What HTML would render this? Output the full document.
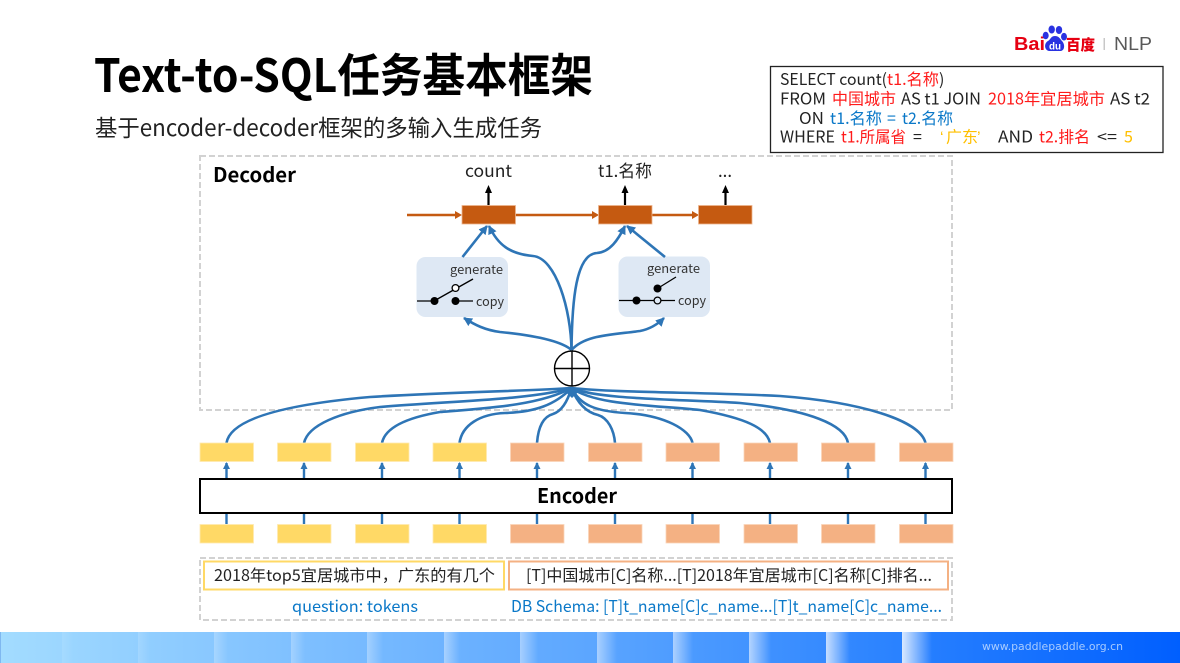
<!DOCTYPE html>
<html><head><meta charset="utf-8"><style>
html,body{margin:0;padding:0;background:#fff;width:1180px;height:663px;overflow:hidden}
svg{display:block}
text{font-family:"Noto Sans CJK SC","Liberation Sans",sans-serif;fill:#222}
.b{fill:none;stroke:#2E75B6;stroke-width:2.6}
.r{fill:#FF1A1A}.u{fill:#0A78C8}.y{fill:#FFC000}
.q{font-size:16px}
.d{fill:none;stroke:#D2D2D2;stroke-width:2;stroke-dasharray:6 3}
.ye{fill:#FFD966;stroke:#FFE9B0;stroke-width:.8}
.or{fill:#F4B183;stroke:#FBD5BA;stroke-width:.8}
.de{fill:#C55A11;stroke:#EDB48D;stroke-width:.8}
</style></head><body>
<svg width="1180" height="663" viewBox="0 0 1180 663" xmlns="http://www.w3.org/2000/svg">
<defs>
<marker id="ab" markerUnits="userSpaceOnUse" markerWidth="10" markerHeight="10" refX="8" refY="4.500" orient="auto"><path d="M0 0L9 4.500L0 9z" fill="#2E75B6"/></marker>
<linearGradient id="base" x1="0" x2="1180" gradientUnits="userSpaceOnUse"><stop offset="0" stop-color="#A3DCFF"/><stop offset=".25" stop-color="#7FC0FF"/><stop offset=".5" stop-color="#5CA6FF"/><stop offset=".76" stop-color="#2A82FF"/><stop offset="1" stop-color="#005FFF"/></linearGradient>
<linearGradient id="h"><stop offset="0" stop-color="#fff"/><stop offset="1" stop-color="#fff" stop-opacity="0"/></linearGradient>
</defs>

<!-- footer -->
<rect x="0" y="632" width="1180" height="31" fill="url(#base)"/>
<rect x="0" y="632" width="1" height="31" fill="#7FB8F0"/>
<rect x="62" y="632" width="12" height="31" fill="url(#h)" opacity=".1"/>
<rect x="138" y="632" width="12" height="31" fill="url(#h)" opacity=".15"/>
<rect x="214" y="632" width="14" height="31" fill="url(#h)" opacity=".25"/>
<rect x="291" y="632" width="14" height="31" fill="url(#h)" opacity=".28"/>
<rect x="367" y="632" width="16" height="31" fill="url(#h)" opacity=".33"/>
<rect x="444" y="632" width="16" height="31" fill="url(#h)" opacity=".4"/>
<rect x="520" y="632" width="18" height="31" fill="url(#h)" opacity=".43"/>
<rect x="597" y="632" width="20" height="31" fill="url(#h)" opacity=".48"/>
<rect x="673" y="632" width="20" height="31" fill="url(#h)" opacity=".53"/>
<rect x="749" y="632" width="22" height="31" fill="url(#h)" opacity=".6"/>
<rect x="826" y="632" width="24" height="31" fill="url(#h)" opacity=".72"/>
<rect x="902" y="632" width="30" height="31" fill="url(#h)" opacity=".82"/>
<text x="982" y="650" font-size="11" textLength="141" lengthAdjust="spacingAndGlyphs" style="font-family:'DejaVu Sans',sans-serif;fill:#A9CCFF">www.paddlepaddle.org.cn</text>

<!-- title -->
<text x="94" y="92" font-size="46" font-weight="700" textLength="499" lengthAdjust="spacingAndGlyphs" style="fill:#000">Text-to-SQL任务基本框架</text>
<text x="95" y="136" font-size="23" textLength="447" lengthAdjust="spacingAndGlyphs">基于encoder-decoder框架的多输入生成任务</text>

<!-- logo -->
<text x="1014" y="50" font-size="18" font-weight="900" textLength="31" lengthAdjust="spacingAndGlyphs" style="font-family:'Liberation Sans',sans-serif;fill:#E60012">Bai</text>
<g fill="#2932E1">
<ellipse cx="1045.700" cy="35.500" rx="3" ry="3.800"/><ellipse cx="1051.700" cy="29.500" rx="3.200" ry="4"/><ellipse cx="1059" cy="30" rx="3.200" ry="4"/><ellipse cx="1064" cy="36.700" rx="3" ry="3.800"/>
<path d="M1055 36c-4 0-4 3-7 5-4 2-4 9 1 10h12c4-1 4-7 1-10-2-2-3-5-7-5z"/>
</g>
<text x="1049" y="49.500" font-size="10" font-weight="700" textLength="12" lengthAdjust="spacingAndGlyphs" style="font-family:'Liberation Sans',sans-serif;fill:#fff">du</text>
<text x="1066" y="50" font-size="15" font-weight="900" textLength="29" lengthAdjust="spacingAndGlyphs" style="fill:#E60012">百度</text>
<rect x="1103.500" y="38" width="1.500" height="12" fill="#C8C8C8"/>
<text x="1114" y="50" font-size="18" textLength="38" lengthAdjust="spacingAndGlyphs" style="font-family:'Liberation Sans',sans-serif;fill:#595959">NLP</text>

<!-- SQL box -->
<rect x="770.500" y="66.500" width="392.500" height="86" fill="#fff" stroke="#222" stroke-width="1.300"/>
<text class="q" x="780" y="85" textLength="107" lengthAdjust="spacingAndGlyphs">SELECT count(</text><text class="q r" x="887" y="85" textLength="52" lengthAdjust="spacingAndGlyphs">t1.名称</text><text class="q" x="939" y="85">)</text>
<text class="q" x="780" y="104.500" textLength="46" lengthAdjust="spacingAndGlyphs">FROM</text><text class="q r" x="832" y="104.500" textLength="64" lengthAdjust="spacingAndGlyphs">中国城市</text><text class="q" x="901" y="104.500" textLength="80" lengthAdjust="spacingAndGlyphs">AS t1 JOIN</text><text class="q r" x="988" y="104.500" textLength="117" lengthAdjust="spacingAndGlyphs">2018年宜居城市</text><text class="q" x="1110" y="104.500" textLength="40" lengthAdjust="spacingAndGlyphs">AS t2</text>
<text class="q" x="799" y="124" textLength="25" lengthAdjust="spacingAndGlyphs">ON</text><text class="q u" x="830" y="124" textLength="52" lengthAdjust="spacingAndGlyphs">t1.名称</text><text class="q u" x="887" y="124">=</text><text class="q u" x="902" y="124" textLength="51" lengthAdjust="spacingAndGlyphs">t2.名称</text>
<text class="q" x="780" y="142.500" textLength="55" lengthAdjust="spacingAndGlyphs">WHERE</text><text class="q r" x="841" y="142.500" textLength="65" lengthAdjust="spacingAndGlyphs">t1.所属省</text><text class="q" x="913" y="142.500">=</text><text class="q y" x="940" y="142.500" style="font-family:'Liberation Sans',sans-serif">‘</text><text class="q y" x="946" y="142.500" textLength="32" lengthAdjust="spacingAndGlyphs">广东</text><text class="q y" x="977" y="142.500" style="font-family:'Liberation Sans',sans-serif">’</text><text class="q" x="998" y="142.500" textLength="35" lengthAdjust="spacingAndGlyphs">AND</text><text class="q r" x="1039" y="142.500" textLength="51" lengthAdjust="spacingAndGlyphs">t2.排名</text><text class="q" x="1097" y="142.500" textLength="20" lengthAdjust="spacingAndGlyphs">&lt;=</text><text class="q y" x="1124" y="142.500">5</text>

<!-- dashed frames -->
<rect class="d" x="200" y="156" width="752" height="254"/>
<rect class="d" x="200" y="558" width="752" height="62"/>
<text x="213" y="182" font-size="20" font-weight="700" textLength="83" lengthAdjust="spacingAndGlyphs" style="fill:#000">Decoder</text>

<!-- decoder output labels -->
<text x="465" y="177" font-size="17" textLength="47" lengthAdjust="spacingAndGlyphs">count</text>
<text x="598" y="177" font-size="17" textLength="54" lengthAdjust="spacingAndGlyphs">t1.名称</text>
<text x="718" y="177" font-size="17" textLength="14" lengthAdjust="spacingAndGlyphs">...</text>

<!-- orange arrows -->
<g stroke="#C55A11" stroke-width="2.500">
<line x1="407" y1="215" x2="457" y2="215"/><line x1="515" y1="215" x2="593" y2="215"/><line x1="652" y1="215" x2="693" y2="215"/>
</g>
<g fill="#C55A11"><path d="M455 211l7 4-7 4z"/><path d="M592 211l7 4-7 4z"/><path d="M692 211l7 4-7 4z"/></g>

<!-- decoder cells -->
<rect class="de" x="462" y="205.500" width="53.500" height="18.500"/>
<rect class="de" x="598.500" y="205.500" width="53.500" height="18.500"/>
<rect class="de" x="698.500" y="205.500" width="53.500" height="18.500"/>

<!-- black up arrows -->
<g stroke="#000" stroke-width="2.200"><line x1="488.500" y1="205" x2="488.500" y2="192"/><line x1="625" y1="205" x2="625" y2="192"/><line x1="725.500" y1="205" x2="725.500" y2="192"/></g>
<g fill="#000"><path d="M488.500 185l-3.500 8h7z"/><path d="M625 185l-3.500 8h7z"/><path d="M725.500 185l-3.500 8h7z"/></g>

<!-- switch boxes -->
<rect x="416.500" y="257" width="91.500" height="60" rx="9" fill="#DEE8F4"/>
<rect x="618.500" y="256.500" width="91.500" height="60.500" rx="9" fill="#DEE8F4"/>

<!-- left switch -->
<g stroke="#000" stroke-width="1.300" fill="none"><line x1="417" y1="301" x2="434" y2="301"/><line x1="455.500" y1="301" x2="473" y2="301"/><line x1="434" y1="301" x2="473" y2="279"/></g>
<circle cx="434.500" cy="301" r="4" fill="#000"/><circle cx="455.500" cy="301" r="4" fill="#000"/>
<circle cx="455.500" cy="288" r="3.400" fill="#fff" stroke="#000" stroke-width="1.300"/>
<text x="450" y="274" font-size="12.500" textLength="53" lengthAdjust="spacingAndGlyphs" style="fill:#333">generate</text>
<text x="476" y="306" font-size="12.500" textLength="28" lengthAdjust="spacingAndGlyphs" style="fill:#333">copy</text>

<!-- right switch -->
<g stroke="#000" stroke-width="1.300" fill="none"><line x1="619" y1="300.500" x2="675" y2="300.500"/><line x1="657.500" y1="288.500" x2="676" y2="277"/></g>
<circle cx="636.500" cy="300.500" r="4" fill="#000"/><circle cx="657.500" cy="288.500" r="4" fill="#000"/>
<circle cx="657.500" cy="300.500" r="3.400" fill="#DEE8F4" stroke="#000" stroke-width="1.300"/>
<text x="647" y="273" font-size="12.500" textLength="53" lengthAdjust="spacingAndGlyphs" style="fill:#333">generate</text>
<text x="678" y="305" font-size="12.500" textLength="28" lengthAdjust="spacingAndGlyphs" style="fill:#333">copy</text>

<!-- blue decoder curves -->
<path class="b" d="M571.500 350C571 310 556 258 533 256C510 254 498 245 489 226" marker-end="url(#ab)"/>
<path class="b" d="M571.500 350C572 300 576 254 597 253C610 252 618 240 625 226" marker-end="url(#ab)"/>
<path class="b" d="M462.500 257L487 226" marker-end="url(#ab)"/>
<path class="b" d="M665 257L627 226" marker-end="url(#ab)"/>
<path class="b" d="M571.500 350C560 340 530 335 500 332C485 330 475 325 464 318" marker-end="url(#ab)"/>
<path class="b" d="M571.500 350C585 335 610 335 640 331C650 329 658 324 664 318" marker-end="url(#ab)"/>

<!-- hub -->
<circle cx="572" cy="368.500" r="17.500" fill="#fff" stroke="#000" stroke-width="1.400"/>
<path d="M554.500 368.500H589.500M572 351V386" stroke="#000" stroke-width="1.400"/>

<!-- fan -->
<path class="b" d="M226.500 443C230 420 280 405 370 397C450 392 530 391 571.500 388"/>
<path class="b" d="M304 443C308 425 340 412 380 407C450 401 530 400 571.500 388"/>
<path class="b" d="M382 443C385 428 405 418 440 412C490 408 540 405 571.500 388"/>
<path class="b" d="M459.500 443C462 425 480 414 505 413C535 412 555 405 571.500 388"/>
<path class="b" d="M537 443C538 430 542 417 553 414C562 411 568 400 571.500 388"/>
<path class="b" d="M615 443C614 430 608 418 598 415C585 412 577 402 571.500 388"/>
<path class="b" d="M692.500 443C690 430 665 415 625 413C595 411 580 405 571.500 388"/>
<path class="b" d="M770 443C767 428 745 418 700 410C650 405 595 405 571.500 388"/>
<path class="b" d="M848 443C845 425 810 410 740 403C680 399 600 400 571.500 388"/>
<path class="b" d="M925.500 443C920 420 860 402 780 396C700 392 620 393 571.500 388"/>
<path d="M562 388.500H582L572 398z" fill="#2E75B6"/>

<!-- top row -->
<rect class="ye" x="200" y="443" width="53.500" height="18.500"/><rect class="ye" x="277.500" y="443" width="53.500" height="18.500"/><rect class="ye" x="355.500" y="443" width="53.500" height="18.500"/><rect class="ye" x="433" y="443" width="53.500" height="18.500"/>
<rect class="or" x="510.500" y="443" width="53.500" height="18.500"/><rect class="or" x="588.500" y="443" width="53.500" height="18.500"/><rect class="or" x="666" y="443" width="53.500" height="18.500"/><rect class="or" x="744" y="443" width="53.500" height="18.500"/><rect class="or" x="821.500" y="443" width="53.500" height="18.500"/><rect class="or" x="899.500" y="443" width="53.500" height="18.500"/>

<!-- bottom row -->
<rect class="ye" x="200" y="524.500" width="53.500" height="18.500"/><rect class="ye" x="277.500" y="524.500" width="53.500" height="18.500"/><rect class="ye" x="355.500" y="524.500" width="53.500" height="18.500"/><rect class="ye" x="433" y="524.500" width="53.500" height="18.500"/>
<rect class="or" x="510.500" y="524.500" width="53.500" height="18.500"/><rect class="or" x="588.500" y="524.500" width="53.500" height="18.500"/><rect class="or" x="666" y="524.500" width="53.500" height="18.500"/><rect class="or" x="744" y="524.500" width="53.500" height="18.500"/><rect class="or" x="821.500" y="524.500" width="53.500" height="18.500"/><rect class="or" x="899.500" y="524.500" width="53.500" height="18.500"/>

<!-- encoder connectors -->
<path d="M226.500 524V463M304 524V463M382 524V463M459.500 524V463M537 524V463M615 524V463M692.500 524V463M770 524V463M848 524V463M925.500 524V463" stroke="#2E75B6" stroke-width="2.400" fill="none"/>
<g fill="#2E75B6"><path d="M226.500 462l-3.500 7h7z"/><path d="M304 462l-3.500 7h7z"/><path d="M382 462l-3.500 7h7z"/><path d="M459.500 462l-3.500 7h7z"/><path d="M537 462l-3.500 7h7z"/><path d="M615 462l-3.500 7h7z"/><path d="M692.500 462l-3.500 7h7z"/><path d="M770 462l-3.500 7h7z"/><path d="M848 462l-3.500 7h7z"/><path d="M925.500 462l-3.500 7h7z"/></g>

<!-- encoder -->
<rect x="200" y="479" width="752" height="34" fill="#fff" stroke="#000" stroke-width="2"/>
<text x="537" y="503" font-size="20" font-weight="700" textLength="80" lengthAdjust="spacingAndGlyphs" style="fill:#000">Encoder</text>

<!-- inputs -->
<rect x="204" y="561.500" width="300" height="28" fill="#fff" stroke="#FFD966" stroke-width="2"/>
<rect x="509" y="561.500" width="439" height="28" fill="#fff" stroke="#F4B183" stroke-width="2"/>
<text x="214" y="581" font-size="16" textLength="281" lengthAdjust="spacingAndGlyphs">2018年top5宜居城市中，广东的有几个</text>
<text x="526" y="581" font-size="16" textLength="406" lengthAdjust="spacingAndGlyphs">[T]中国城市[C]名称...[T]2018年宜居城市[C]名称[C]排名...</text>
<text class="u" x="292" y="612" font-size="16" textLength="126" lengthAdjust="spacingAndGlyphs">question: tokens</text>
<text class="u" x="511" y="612" font-size="16" textLength="431" lengthAdjust="spacingAndGlyphs">DB Schema: [T]t_name[C]c_name...[T]t_name[C]c_name...</text>
</svg>
</body></html>
